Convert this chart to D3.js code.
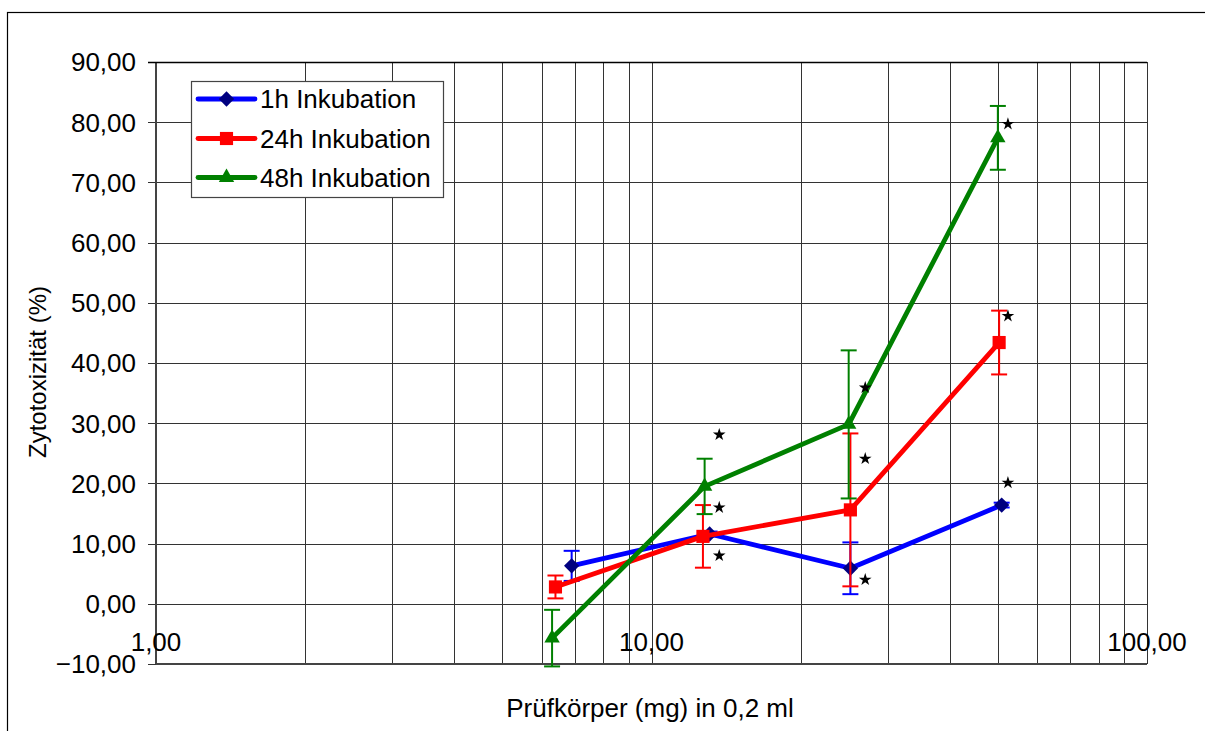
<!DOCTYPE html>
<html>
<head>
<meta charset="utf-8">
<script src="https://cdn.jsdelivr.net/npm/d3@7"></script>
<style>
  body { margin: 0; background: #fff; }
  svg { font-family: "Liberation Sans", Arial, sans-serif; }
</style>
</head>
<body>
<svg id="chart" width="1205" height="731"></svg>
<script>
// data
const seriesNames = ["1h Inkubation", "24h Inkubation", "48h Inkubation"];
const dose1h = [6.9, 13.1, 25.2, 50.9];
const tox1h = [6.3, 11.6, 5.9, 16.4];
const err1h = [2.5, 0.4, 4.3, 0.4];
const dose24h = [6.4, 12.7, 25.2, 50.3];
const tox24h = [2.8, 11.2, 15.6, 43.4];
const err24h = [1.9, 5.2, 12.7, 5.3];
const dose48h = [6.3, 12.8, 25.0, 50.0];
const tox48h = [-5.7, 19.5, 29.8, 77.4];
const err48h = [4.7, 4.6, 12.3, 5.3];
// significance stars
const starX = [13.7, 13.7, 13.7, 27.0, 27.0, 27.0, 52.4, 52.4, 52.4];
const starY = [28.1, 16.0, 8.0, 35.9, 24.1, 4.0, 79.7, 47.8, 20.1];
const yTicks = [-10, 0, 10, 20, 30, 40, 50, 60, 70, 80, 90];
const xTicks = [1, 10, 100];

const svg = d3.select("#chart");
const pLeft = 156, pRight = 1147, pTop = 62, pBottom = 664;

const x = d3.scaleLog().domain([1, 100]).range([pLeft, pRight]);
const y = d3.scaleLinear().domain([-10, 90]).range([pBottom, pTop]);
const fmt = (d) => d3.format(".2f")(d).replace(".", ",");

// outer frame
svg.append("rect")
  .attr("x", 7.5).attr("y", 12.5)
  .attr("width", 1220).attr("height", 740)
  .attr("fill", "none").attr("stroke", "#000").attr("stroke-width", 1.2);

// gridlines
const minor = [];
for (let dec = 1; dec < 100; dec *= 10) {
  for (let k = 1; k < 10; k++) minor.push(dec * k);
}
minor.push(100);

svg.append("g")
  .selectAll("line")
  .data(minor)
  .join("line")
  .attr("x1", (d) => Math.round(x(d)) + 0.5)
  .attr("x2", (d) => Math.round(x(d)) + 0.5)
  .attr("y1", pTop).attr("y2", pBottom)
  .attr("stroke", "#333").attr("stroke-width", 1);

svg.append("g")
  .selectAll("line")
  .data(yTicks)
  .join("line")
  .attr("x1", pLeft - 8).attr("x2", pRight)
  .attr("y1", (d) => Math.round(y(d)) + 0.5)
  .attr("y2", (d) => Math.round(y(d)) + 0.5)
  .attr("stroke", "#333").attr("stroke-width", 1);

// axes lines
svg.append("line")
  .attr("x1", pLeft).attr("x2", pLeft).attr("y1", pTop).attr("y2", pBottom)
  .attr("stroke", "#444").attr("stroke-width", 2);
svg.append("line")
  .attr("x1", pLeft).attr("x2", pRight).attr("y1", pBottom).attr("y2", pBottom)
  .attr("stroke", "#444").attr("stroke-width", 2);
svg.append("line")
  .attr("x1", pLeft - 8).attr("x2", pRight).attr("y1", pTop + 0.5).attr("y2", pTop + 0.5)
  .attr("stroke", "#000").attr("stroke-width", 1.5);

// tick labels
svg.append("g")
  .selectAll("text")
  .data(yTicks)
  .join("text")
  .attr("x", 136)
  .attr("y", (d) => y(d))
  .attr("dy", "0.36em")
  .attr("text-anchor", "end")
  .style("font-size", "26px")
  .text(fmt);

svg.append("g")
  .selectAll("text")
  .data(xTicks)
  .join("text")
  .attr("x", (d) => x(d))
  .attr("y", 642)
  .attr("dy", "0.36em")
  .attr("text-anchor", "middle")
  .style("font-size", "26px")
  .text(fmt);

// axis titles
svg.append("text")
  .attr("x", 650).attr("y", 717)
  .attr("text-anchor", "middle")
  .style("font-size", "26px")
  .text("Prüfkörper (mg) in 0,2 ml");

svg.append("text")
  .attr("transform", "translate(46,372) rotate(-90)")
  .attr("text-anchor", "middle")
  .style("font-size", "24px")
  .text("Zytotoxizität (%)");

// series
const series = [
  { name: seriesNames[0], xs: dose1h, ys: tox1h, es: err1h, line: "#0000ff", mark: "#000080", sym: d3.symbolDiamond2 },
  { name: seriesNames[1], xs: dose24h, ys: tox24h, es: err24h, line: "#ff0000", mark: "#ff0000", sym: d3.symbolSquare2 },
  { name: seriesNames[2], xs: dose48h, ys: tox48h, es: err48h, line: "#008000", mark: "#008000", sym: d3.symbolTriangle2 }
];

const symPath = (s) => {
  const size = s === d3.symbolTriangle2 ? 170 : s === d3.symbolSquare2 ? 220 : 150;
  return d3.symbol().type(s).size(size)();
};

const line = d3.line().x((d) => x(d[0])).y((d) => y(d[1]));

series.forEach((s) => {
  const pts = s.xs.map((v, i) => [v, s.ys[i], s.es[i]]);
  const g = svg.append("g");

  // error bars
  const eb = g.selectAll(".eb").data(pts).join("g");
  eb.append("line")
    .attr("x1", (d) => x(d[0])).attr("x2", (d) => x(d[0]))
    .attr("y1", (d) => y(d[1] - d[2])).attr("y2", (d) => y(d[1] + d[2]))
    .attr("stroke", s.line).attr("stroke-width", 2);
  eb.append("line")
    .attr("x1", (d) => x(d[0]) - 8).attr("x2", (d) => x(d[0]) + 8)
    .attr("y1", (d) => y(d[1] + d[2])).attr("y2", (d) => y(d[1] + d[2]))
    .attr("stroke", s.line).attr("stroke-width", 2);
  eb.append("line")
    .attr("x1", (d) => x(d[0]) - 8).attr("x2", (d) => x(d[0]) + 8)
    .attr("y1", (d) => y(d[1] - d[2])).attr("y2", (d) => y(d[1] - d[2]))
    .attr("stroke", s.line).attr("stroke-width", 2);

  g.append("path")
    .datum(pts)
    .attr("d", line)
    .attr("fill", "none")
    .attr("stroke", s.line)
    .attr("stroke-width", 4.8)
    .attr("stroke-linejoin", "round");

  g.selectAll(".pt")
    .data(pts)
    .join("path")
    .attr("transform", (d) => `translate(${x(d[0])},${y(d[1])})`)
    .attr("d", symPath(s.sym))
    .attr("fill", s.mark);
});

// stars
svg.append("g")
  .selectAll("path")
  .data(starX.map((v, i) => [v, starY[i]]))
  .join("path")
  .attr("transform", (d) => `translate(${x(d[0])},${y(d[1])})`)
  .attr("d", d3.symbol().type(d3.symbolStar).size(50)())
  .attr("fill", "#000");

// legend
const legend = svg.append("g");
legend.append("rect")
  .attr("x", 191.5).attr("y", 81.5)
  .attr("width", 252).attr("height", 116)
  .attr("fill", "#fff").attr("stroke", "#444").attr("stroke-width", 1.2);

const rows = [99, 138.5, 177.5];
series.forEach((s, i) => {
  legend.append("line")
    .attr("x1", 198).attr("x2", 255)
    .attr("y1", rows[i]).attr("y2", rows[i])
    .attr("stroke", s.line).attr("stroke-width", 4.8)
    .attr("stroke-linecap", "round");
  legend.append("path")
    .attr("transform", `translate(226.5,${rows[i]})`)
    .attr("d", symPath(s.sym))
    .attr("fill", s.mark);
  legend.append("text")
    .attr("x", 260).attr("y", rows[i])
    .attr("dy", "0.36em")
    .style("font-size", "26px")
    .text(s.name);
});
</script>
</body>
</html>
